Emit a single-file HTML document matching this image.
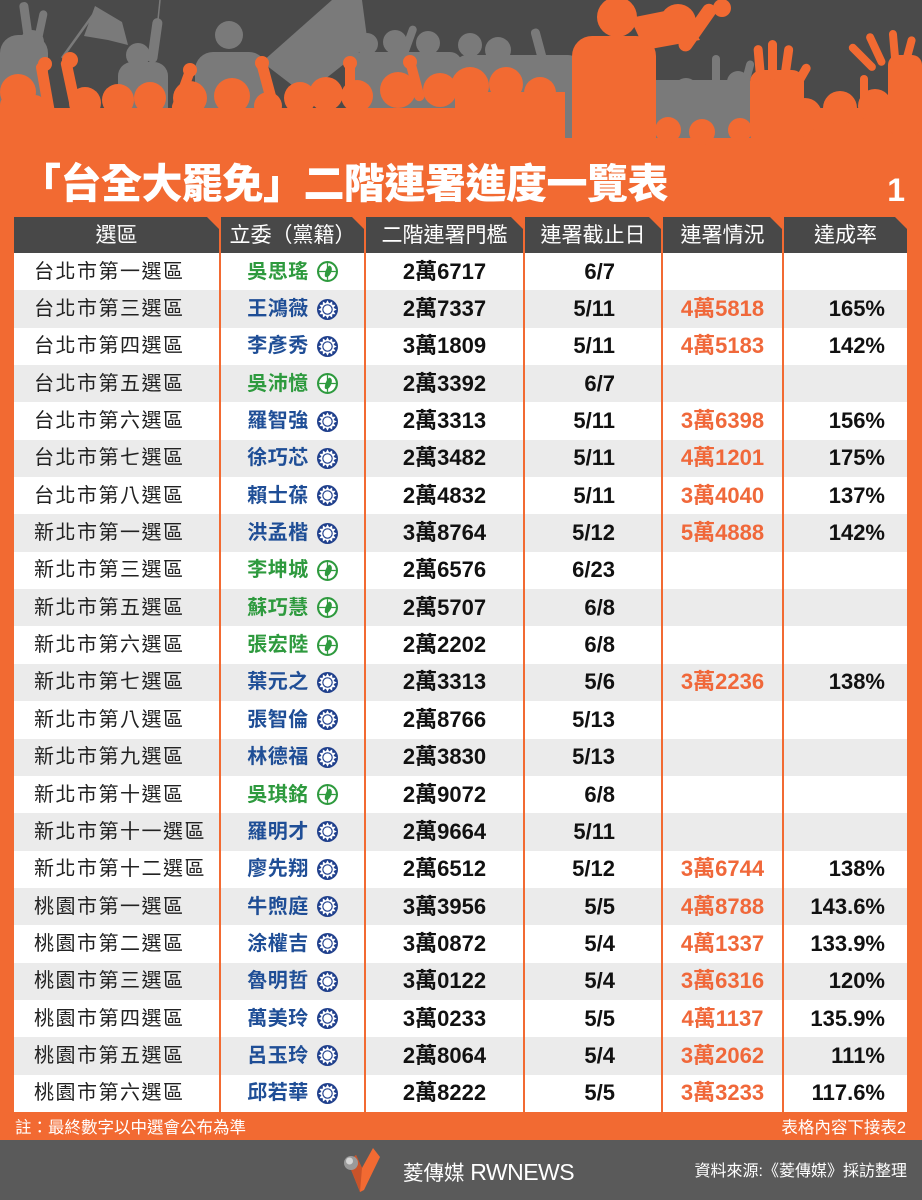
<!DOCTYPE html>
<html><head><meta charset="utf-8">
<style>
*{margin:0;padding:0;box-sizing:border-box}
html,body{width:922px;height:1200px;overflow:hidden}
body{background:#f26a32;position:relative;font-family:"Liberation Sans","Noto Sans CJK TC",sans-serif}
.abs{position:absolute}
.title{left:20px;top:164px;font-size:41px;line-height:41px;font-weight:900;color:#fff;letter-spacing:-0.5px;white-space:nowrap}
.pg{right:17px;top:172px;font-size:32px;line-height:36px;font-weight:bold;color:#fff}
.grid{display:grid;grid-template-columns:205px 2px 143px 2px 157px 2px 136px 2px 119px 2px 123px}
.head{left:14px;top:217px;width:893px;height:36px}
.head div.h{background:#484848;color:#fff;font-size:21px;display:flex;align-items:center;justify-content:center;line-height:1;clip-path:polygon(0 0,calc(100% - 12px) 0,100% 12px,100% 100%,0 100%)}
.body{left:14px;top:253px;width:893px;height:859px;display:grid;grid-template-rows:repeat(23,1fr)}
.row>div.c{display:flex;align-items:center;line-height:1;white-space:nowrap}
.row.w>div.c{background:#fff}
.row.g>div.c{background:#ebebeb}
.c1{padding-left:20px;font-size:20px;letter-spacing:1.5px;color:#222}
.c2{justify-content:center;font-size:20px;font-weight:bold;letter-spacing:0.5px}
.c2 svg{margin-left:8px;flex:none}
.dpp{color:#2e9a3e}.kmt{color:#1f4e96}
.c3{justify-content:center;font-size:22px;font-weight:bold;color:#111}
.c4{justify-content:flex-end;padding-right:46px;font-size:22px;font-weight:bold;color:#111}
.c5{justify-content:center;font-size:22px;font-weight:bold;color:#f0683a}
.c6{justify-content:flex-end;padding-right:22px;font-size:22px;font-weight:bold;color:#111}
.note{top:1118px;font-size:16.5px;line-height:20px;color:#fff;white-space:nowrap}
.bottom{left:0;top:1140px;width:922px;height:60px;background:#5a5a5a}
</style></head><body>

<svg class="abs" style="left:0;top:0" width="922" height="170" viewBox="0 0 922 170">
<rect width="922" height="150" fill="#4a4a4a"/>
<g fill="#7a7a7a" stroke="none">
<rect x="0" y="35" width="48" height="110" rx="18"/>
<rect x="22" y="2" width="9" height="45" rx="4" transform="rotate(-8 26 25)"/>
<rect x="36" y="10" width="8" height="40" rx="4" transform="rotate(12 40 30)"/>
<circle cx="32" cy="42" r="12"/>
<line x1="62" y1="58" x2="98" y2="8" stroke="#7a7a7a" stroke-width="2.5"/>
<polygon points="95,6 122,22 128,45 108,40 84,36"/>
<circle cx="138" cy="55" r="12"/>
<rect x="118" y="62" width="50" height="85" rx="14"/>
<rect x="150" y="18" width="10" height="45" rx="5" transform="rotate(8 155 40)"/>
<line x1="158" y1="20" x2="160" y2="0" stroke="#7a7a7a" stroke-width="1.5"/>
<circle cx="229" cy="35" r="14"/>
<rect x="195" y="52" width="72" height="95" rx="18"/>
<polygon points="262,62 332,0 362,0 368,45 305,95"/>
<circle cx="367" cy="44" r="11"/><circle cx="395" cy="42" r="12"/><circle cx="428" cy="43" r="12"/>
<rect x="350" y="52" width="112" height="95" rx="12"/>
<rect x="405" y="25" width="8" height="30" rx="4" transform="rotate(20 409 40)"/>
<circle cx="470" cy="45" r="12"/><circle cx="498" cy="50" r="13"/>
<rect x="455" y="55" width="125" height="95" rx="12"/>
<rect x="535" y="28" width="9" height="40" rx="4" transform="rotate(-15 540 48)"/>
<rect x="640" y="80" width="120" height="70" rx="15"/>
<circle cx="662" cy="95" r="12"/><circle cx="686" cy="90" r="12"/><circle cx="712" cy="96" r="12"/><circle cx="738" cy="82" r="11"/>
<rect x="712" y="55" width="8" height="40" rx="4"/>
<rect x="742" y="60" width="8" height="40" rx="4" transform="rotate(15 746 80)"/>
</g>
<g fill="#f26a32">
<rect x="0" y="108" width="565" height="62"/>
<rect x="560" y="138" width="210" height="32"/>
<rect x="760" y="108" width="162" height="62"/>
<circle cx="18" cy="92" r="18"/><rect x="0" y="95" width="45" height="40" rx="10"/>
<rect x="40" y="62" width="11" height="55" rx="5" transform="rotate(-10 45 90)"/><circle cx="45" cy="64" r="7"/>
<rect x="66" y="58" width="11" height="60" rx="5" transform="rotate(-12 72 88)"/><circle cx="70" cy="60" r="8"/>
<circle cx="85" cy="103" r="16"/><circle cx="118" cy="100" r="16"/>
<circle cx="150" cy="98" r="16"/>
<rect x="178" y="68" width="10" height="45" rx="5" transform="rotate(20 183 90)"/><circle cx="190" cy="70" r="7"/>
<circle cx="190" cy="98" r="17"/><circle cx="232" cy="96" r="18"/>
<circle cx="268" cy="106" r="14"/>
<rect x="262" y="60" width="11" height="50" rx="5" transform="rotate(-15 267 85)"/><circle cx="262" cy="63" r="7"/>
<circle cx="300" cy="98" r="16"/><circle cx="326" cy="94" r="17"/>
<rect x="345" y="60" width="10" height="45" rx="5"/><circle cx="350" cy="63" r="7"/>
<circle cx="357" cy="96" r="16"/><circle cx="398" cy="90" r="18"/>
<rect x="410" y="60" width="10" height="42" rx="5" transform="rotate(-15 414 80)"/><circle cx="410" cy="62" r="7"/>
<circle cx="440" cy="90" r="17"/>
<circle cx="470" cy="86" r="19"/><circle cx="506" cy="84" r="17"/><circle cx="540" cy="93" r="16"/>
<rect x="455" y="92" width="110" height="45"/>
<circle cx="617" cy="17" r="20"/>
<rect x="572" y="36" width="84" height="130" rx="20"/>
<circle cx="678" cy="22" r="18"/>
<polygon points="630,18 680,8 700,40 645,50"/>
<rect x="690" y="0" width="14" height="55" rx="7" transform="rotate(35 697 28)"/>
<circle cx="722" cy="8" r="9"/>
<circle cx="668" cy="130" r="13"/><circle cx="702" cy="132" r="13"/><circle cx="740" cy="130" r="12"/>
<rect x="750" y="70" width="54" height="75" rx="12"/>
<rect x="755" y="45" width="9" height="40" rx="4.5" transform="rotate(-5 760 65)"/>
<rect x="768" y="40" width="9" height="40" rx="4.5"/>
<rect x="782" y="45" width="9" height="40" rx="4.5" transform="rotate(8 786 65)"/>
<rect x="796" y="62" width="9" height="32" rx="4.5" transform="rotate(30 800 78)"/>
<circle cx="805" cy="115" r="17"/><circle cx="840" cy="108" r="17"/><circle cx="875" cy="106" r="17"/><circle cx="910" cy="98" r="17"/>
<rect x="888" y="55" width="34" height="80" rx="10"/>
<rect x="858" y="40" width="8" height="35" rx="4" transform="rotate(-45 862 57)"/>
<rect x="872" y="32" width="8" height="35" rx="4" transform="rotate(-25 876 50)"/>
<rect x="890" y="30" width="8" height="32" rx="4" transform="rotate(-5 894 46)"/>
<rect x="905" y="36" width="8" height="30" rx="4" transform="rotate(15 909 50)"/>
<rect x="860" y="75" width="8" height="40" rx="4"/>
</g>
</svg>

<div class="abs title">「台全大罷免」二階連署進度一覽表</div>
<div class="abs pg">1</div>

<div class="abs head grid">
<div class="h">選區</div><div></div>
<div class="h">立委（黨籍）</div><div></div>
<div class="h">二階連署門檻</div><div></div>
<div class="h">連署截止日</div><div></div>
<div class="h">連署情況</div><div></div>
<div class="h">達成率</div>
</div>

<svg width="0" height="0" style="position:absolute">
<defs>
<g id="dpp">
<circle cx="10" cy="10" r="9" fill="#fff" stroke="#2e9a3e" stroke-width="2"/>
<path d="M10 2 V18 M2 10 H18" stroke="#2e9a3e" stroke-width="1.2"/>
<path d="M12.5 4.5 C15 6 14.5 10 12 13.5 C10.5 15.5 8.5 16 7.5 14.5 C7 12 8.5 8 10 6 C11 4.8 11.8 4.2 12.5 4.5 Z" fill="#2e9a3e"/>
</g>
<g id="kmt">
<circle cx="10" cy="10" r="10" fill="#1f3f8c"/>
<polygon fill="#fff" points="10,1.2 11.6,4.2 14.4,2.4 14.6,5.5 17.6,5.6 15.8,8.4 18.8,10 15.8,11.6 17.6,14.4 14.6,14.5 14.4,17.6 11.6,15.8 10,18.8 8.4,15.8 5.6,17.6 5.5,14.5 2.4,14.4 4.2,11.6 1.2,10 4.2,8.4 2.4,5.6 5.5,5.5 5.6,2.4 8.4,4.2"/>
<circle cx="10" cy="10" r="5" fill="#1f3f8c"/>
<circle cx="10" cy="10" r="3.9" fill="#fff"/>
</g>
</defs>
</svg>

<div class="abs body">
<div class="row grid w"><div class="c c1">台北市第一選區</div><div></div><div class="c c2 dpp">吳思瑤<svg width="21" height="21" viewBox="0 0 20 20"><use href="#dpp"/></svg></div><div></div><div class="c c3">2萬6717</div><div></div><div class="c c4">6/7</div><div></div><div class="c c5"></div><div></div><div class="c c6"></div></div>
<div class="row grid g"><div class="c c1">台北市第三選區</div><div></div><div class="c c2 kmt">王鴻薇<svg width="21" height="21" viewBox="0 0 20 20"><use href="#kmt"/></svg></div><div></div><div class="c c3">2萬7337</div><div></div><div class="c c4">5/11</div><div></div><div class="c c5">4萬5818</div><div></div><div class="c c6">165%</div></div>
<div class="row grid w"><div class="c c1">台北市第四選區</div><div></div><div class="c c2 kmt">李彥秀<svg width="21" height="21" viewBox="0 0 20 20"><use href="#kmt"/></svg></div><div></div><div class="c c3">3萬1809</div><div></div><div class="c c4">5/11</div><div></div><div class="c c5">4萬5183</div><div></div><div class="c c6">142%</div></div>
<div class="row grid g"><div class="c c1">台北市第五選區</div><div></div><div class="c c2 dpp">吳沛憶<svg width="21" height="21" viewBox="0 0 20 20"><use href="#dpp"/></svg></div><div></div><div class="c c3">2萬3392</div><div></div><div class="c c4">6/7</div><div></div><div class="c c5"></div><div></div><div class="c c6"></div></div>
<div class="row grid w"><div class="c c1">台北市第六選區</div><div></div><div class="c c2 kmt">羅智強<svg width="21" height="21" viewBox="0 0 20 20"><use href="#kmt"/></svg></div><div></div><div class="c c3">2萬3313</div><div></div><div class="c c4">5/11</div><div></div><div class="c c5">3萬6398</div><div></div><div class="c c6">156%</div></div>
<div class="row grid g"><div class="c c1">台北市第七選區</div><div></div><div class="c c2 kmt">徐巧芯<svg width="21" height="21" viewBox="0 0 20 20"><use href="#kmt"/></svg></div><div></div><div class="c c3">2萬3482</div><div></div><div class="c c4">5/11</div><div></div><div class="c c5">4萬1201</div><div></div><div class="c c6">175%</div></div>
<div class="row grid w"><div class="c c1">台北市第八選區</div><div></div><div class="c c2 kmt">賴士葆<svg width="21" height="21" viewBox="0 0 20 20"><use href="#kmt"/></svg></div><div></div><div class="c c3">2萬4832</div><div></div><div class="c c4">5/11</div><div></div><div class="c c5">3萬4040</div><div></div><div class="c c6">137%</div></div>
<div class="row grid g"><div class="c c1">新北市第一選區</div><div></div><div class="c c2 kmt">洪孟楷<svg width="21" height="21" viewBox="0 0 20 20"><use href="#kmt"/></svg></div><div></div><div class="c c3">3萬8764</div><div></div><div class="c c4">5/12</div><div></div><div class="c c5">5萬4888</div><div></div><div class="c c6">142%</div></div>
<div class="row grid w"><div class="c c1">新北市第三選區</div><div></div><div class="c c2 dpp">李坤城<svg width="21" height="21" viewBox="0 0 20 20"><use href="#dpp"/></svg></div><div></div><div class="c c3">2萬6576</div><div></div><div class="c c4">6/23</div><div></div><div class="c c5"></div><div></div><div class="c c6"></div></div>
<div class="row grid g"><div class="c c1">新北市第五選區</div><div></div><div class="c c2 dpp">蘇巧慧<svg width="21" height="21" viewBox="0 0 20 20"><use href="#dpp"/></svg></div><div></div><div class="c c3">2萬5707</div><div></div><div class="c c4">6/8</div><div></div><div class="c c5"></div><div></div><div class="c c6"></div></div>
<div class="row grid w"><div class="c c1">新北市第六選區</div><div></div><div class="c c2 dpp">張宏陸<svg width="21" height="21" viewBox="0 0 20 20"><use href="#dpp"/></svg></div><div></div><div class="c c3">2萬2202</div><div></div><div class="c c4">6/8</div><div></div><div class="c c5"></div><div></div><div class="c c6"></div></div>
<div class="row grid g"><div class="c c1">新北市第七選區</div><div></div><div class="c c2 kmt">葉元之<svg width="21" height="21" viewBox="0 0 20 20"><use href="#kmt"/></svg></div><div></div><div class="c c3">2萬3313</div><div></div><div class="c c4">5/6</div><div></div><div class="c c5">3萬2236</div><div></div><div class="c c6">138%</div></div>
<div class="row grid w"><div class="c c1">新北市第八選區</div><div></div><div class="c c2 kmt">張智倫<svg width="21" height="21" viewBox="0 0 20 20"><use href="#kmt"/></svg></div><div></div><div class="c c3">2萬8766</div><div></div><div class="c c4">5/13</div><div></div><div class="c c5"></div><div></div><div class="c c6"></div></div>
<div class="row grid g"><div class="c c1">新北市第九選區</div><div></div><div class="c c2 kmt">林德福<svg width="21" height="21" viewBox="0 0 20 20"><use href="#kmt"/></svg></div><div></div><div class="c c3">2萬3830</div><div></div><div class="c c4">5/13</div><div></div><div class="c c5"></div><div></div><div class="c c6"></div></div>
<div class="row grid w"><div class="c c1">新北市第十選區</div><div></div><div class="c c2 dpp">吳琪銘<svg width="21" height="21" viewBox="0 0 20 20"><use href="#dpp"/></svg></div><div></div><div class="c c3">2萬9072</div><div></div><div class="c c4">6/8</div><div></div><div class="c c5"></div><div></div><div class="c c6"></div></div>
<div class="row grid g"><div class="c c1">新北市第十一選區</div><div></div><div class="c c2 kmt">羅明才<svg width="21" height="21" viewBox="0 0 20 20"><use href="#kmt"/></svg></div><div></div><div class="c c3">2萬9664</div><div></div><div class="c c4">5/11</div><div></div><div class="c c5"></div><div></div><div class="c c6"></div></div>
<div class="row grid w"><div class="c c1">新北市第十二選區</div><div></div><div class="c c2 kmt">廖先翔<svg width="21" height="21" viewBox="0 0 20 20"><use href="#kmt"/></svg></div><div></div><div class="c c3">2萬6512</div><div></div><div class="c c4">5/12</div><div></div><div class="c c5">3萬6744</div><div></div><div class="c c6">138%</div></div>
<div class="row grid g"><div class="c c1">桃園市第一選區</div><div></div><div class="c c2 kmt">牛煦庭<svg width="21" height="21" viewBox="0 0 20 20"><use href="#kmt"/></svg></div><div></div><div class="c c3">3萬3956</div><div></div><div class="c c4">5/5</div><div></div><div class="c c5">4萬8788</div><div></div><div class="c c6">143.6%</div></div>
<div class="row grid w"><div class="c c1">桃園市第二選區</div><div></div><div class="c c2 kmt">涂權吉<svg width="21" height="21" viewBox="0 0 20 20"><use href="#kmt"/></svg></div><div></div><div class="c c3">3萬0872</div><div></div><div class="c c4">5/4</div><div></div><div class="c c5">4萬1337</div><div></div><div class="c c6">133.9%</div></div>
<div class="row grid g"><div class="c c1">桃園市第三選區</div><div></div><div class="c c2 kmt">魯明哲<svg width="21" height="21" viewBox="0 0 20 20"><use href="#kmt"/></svg></div><div></div><div class="c c3">3萬0122</div><div></div><div class="c c4">5/4</div><div></div><div class="c c5">3萬6316</div><div></div><div class="c c6">120%</div></div>
<div class="row grid w"><div class="c c1">桃園市第四選區</div><div></div><div class="c c2 kmt">萬美玲<svg width="21" height="21" viewBox="0 0 20 20"><use href="#kmt"/></svg></div><div></div><div class="c c3">3萬0233</div><div></div><div class="c c4">5/5</div><div></div><div class="c c5">4萬1137</div><div></div><div class="c c6">135.9%</div></div>
<div class="row grid g"><div class="c c1">桃園市第五選區</div><div></div><div class="c c2 kmt">呂玉玲<svg width="21" height="21" viewBox="0 0 20 20"><use href="#kmt"/></svg></div><div></div><div class="c c3">2萬8064</div><div></div><div class="c c4">5/4</div><div></div><div class="c c5">3萬2062</div><div></div><div class="c c6">111%</div></div>
<div class="row grid w"><div class="c c1">桃園市第六選區</div><div></div><div class="c c2 kmt">邱若華<svg width="21" height="21" viewBox="0 0 20 20"><use href="#kmt"/></svg></div><div></div><div class="c c3">2萬8222</div><div></div><div class="c c4">5/5</div><div></div><div class="c c5">3萬3233</div><div></div><div class="c c6">117.6%</div></div>
</div>

<div class="abs note" style="left:15px">註：最終數字以中選會公布為準</div>
<div class="abs note" style="right:16px">表格內容下接表2</div>

<div class="abs bottom"></div>
<svg class="abs" style="left:342px;top:1146px" width="40" height="48" viewBox="0 0 40 48">
<polygon points="6,16 14,9 20,22 31,2 38,11 22,44 18,46" fill="#f26a32"/>
<polygon points="14,9 20,22 18,46 6,16" fill="#c9532a"/>
<circle cx="9" cy="17" r="7" fill="#9a9a9a"/>
<circle cx="7.5" cy="15" r="3.5" fill="#d5d5d5"/>
</svg>
<div class="abs" style="left:403px;top:1160px;font-size:20.5px;line-height:24px;color:#fff;white-space:nowrap">菱傳媒 <span style="font-size:23px;letter-spacing:-0.5px">RWNEWS</span></div>
<div class="abs" style="right:15px;top:1162px;font-size:16px;line-height:20px;color:#fff;white-space:nowrap">資料來源:《菱傳媒》採訪整理</div>

</body></html>
